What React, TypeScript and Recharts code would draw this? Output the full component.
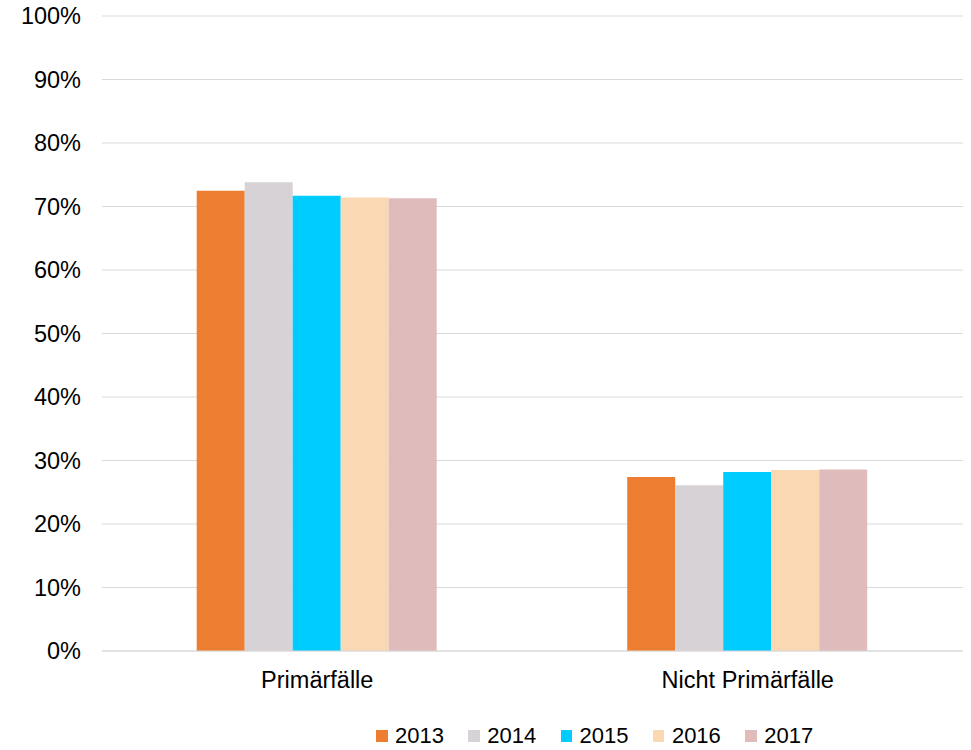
import { Bar, BarChart, CartesianGrid, Legend, XAxis, YAxis } from "recharts";

const categories = ["Primärfälle", "Nicht Primärfälle"];
const years = ["2013", "2014", "2015", "2016", "2017"];
const v2013 = [72.5, 27.4];
const v2014 = [73.8, 26.1];
const v2015 = [71.7, 28.2];
const v2016 = [71.4, 28.5];
const v2017 = [71.3, 28.6];
const yTicks = [0, 10, 20, 30, 40, 50, 60, 70, 80, 90, 100];

const colors = ["#ED7D31", "#D6D2D6", "#00CCFF", "#F9D8B3", "#E0BBBB"];
const series = [v2013, v2014, v2015, v2016, v2017];

const rows = categories.map((name, i) => {
  const row: Record<string, string | number> = { name };
  years.forEach((y, k) => {
    row[y] = series[k][i];
  });
  return row;
});

const font = "'Liberation Sans', Arial, sans-serif";

function LegendBox() {
  return (
    <div
      style={{
        display: "flex",
        paddingLeft: 376,
        paddingTop: 21,
        fontFamily: font,
        fontSize: 22,
        color: "#000",
        lineHeight: "28px",
      }}
    >
      {years.map((y, i) => (
        <div key={y} style={{ display: "flex", alignItems: "center", width: 92.3 }}>
          <span
            style={{
              display: "inline-block",
              width: 11.5,
              height: 11.5,
              background: colors[i],
              marginRight: 7.5,
            }}
          />
          <span>{y}</span>
        </div>
      ))}
    </div>
  );
}

export default function App() {
  return (
    <div style={{ position: "absolute", left: 0, top: 0, background: "#fff" }}>
      <BarChart
        width={971}
        height={750}
        data={rows}
        margin={{ top: 16, right: 8, bottom: 0, left: 0 }}
        barCategoryGap="22%"
        barGap={0}
        style={{ fontFamily: font }}
      >
        <CartesianGrid vertical={false} stroke="#D9D9D9" />
        <XAxis
          dataKey="name"
          height={50}
          tickLine={false}
          tickSize={0}
          tickMargin={20}
          axisLine={{ stroke: "#D9D9D9" }}
          tick={{ fill: "#000", fontSize: 23.5 }}
        />
        <YAxis
          width={102}
          domain={[0, 100]}
          ticks={yTicks}
          interval={0}
          axisLine={false}
          tickLine={false}
          tickSize={0}
          tickMargin={21}
          tickFormatter={(v) => `${v}%`}
          tick={{ fill: "#000", fontSize: 23.5 }}
        />
        <Legend verticalAlign="bottom" height={49} content={() => <LegendBox />} />
        {years.map((y, i) => (
          <Bar key={y} dataKey={y} fill={colors[i]} isAnimationActive={false} />
        ))}
      </BarChart>
    </div>
  );
}
